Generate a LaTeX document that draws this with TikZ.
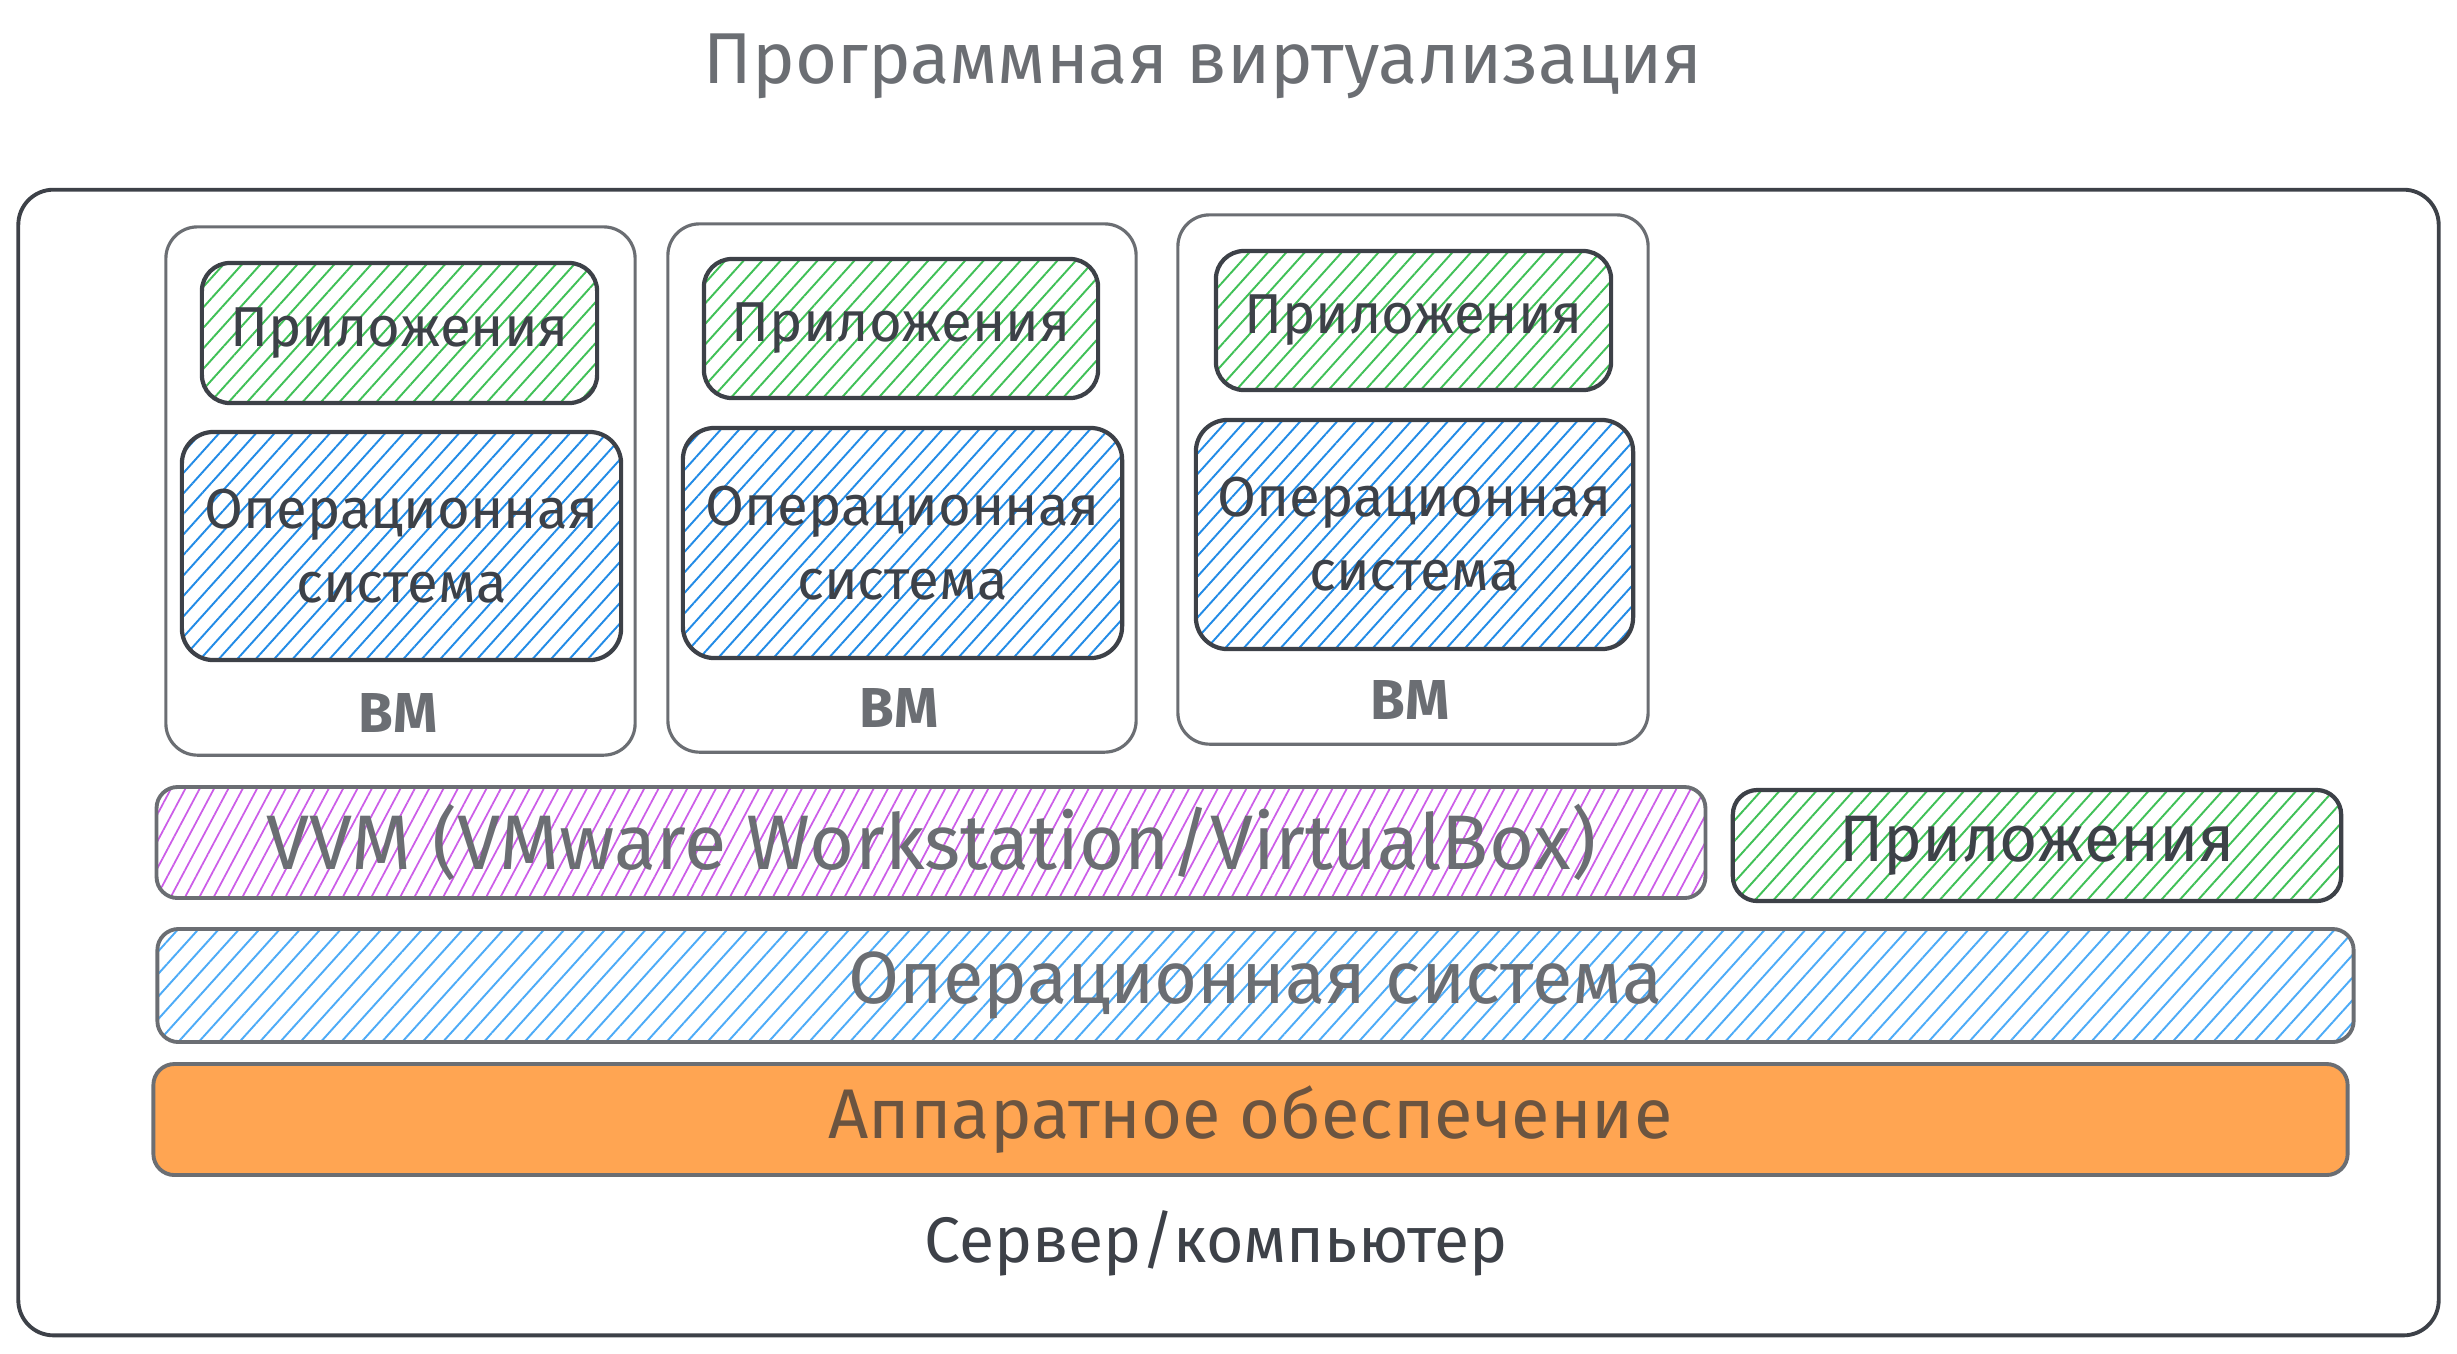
\documentclass[tikz,border=0pt]{standalone}
\usepackage{fontspec}
\setmainfont{Fira Sans}
\usetikzlibrary{patterns.meta}
\definecolor{dark}{HTML}{3D4148}
\definecolor{mid}{HTML}{6B6E73}
\definecolor{hgreen}{HTML}{40C057}
\definecolor{hblue}{HTML}{228BE6}
\definecolor{hblue2}{HTML}{4DABF7}
\definecolor{hpurple}{HTML}{CC5DE8}
\definecolor{orangefill}{HTML}{FFA552}
\definecolor{hwtext}{HTML}{6B5440}
\tikzset{
  outerbox/.style={draw=dark, line width=1.1pt, rounded corners=10pt, inner sep=0pt},
  vmbox/.style={draw=mid, line width=0.9pt, rounded corners=9pt, inner sep=0pt},
  appbox/.style={draw=dark, line width=1.2pt, rounded corners=8pt, inner sep=0pt,
    pattern={Lines[angle=48,distance=3.9pt,line width=0.55pt]}, pattern color=hgreen},
  osbox/.style={draw=dark, line width=1.2pt, rounded corners=9pt, inner sep=0pt,
    pattern={Lines[angle=48,distance=3.9pt,line width=0.55pt]}, pattern color=hblue},
  vvmbar/.style={draw=mid, line width=1.1pt, rounded corners=6pt, inner sep=0pt,
    pattern={Lines[angle=62,distance=3.6pt,line width=0.5pt]}, pattern color=hpurple},
  osbar/.style={draw=mid, line width=1.1pt, rounded corners=6pt, inner sep=0pt,
    pattern={Lines[angle=48,distance=4.3pt,line width=0.55pt]}, pattern color=hblue2},
  hwbar/.style={draw=mid, line width=1.1pt, rounded corners=6pt, inner sep=0pt, fill=orangefill},
  intext/.style={text=dark, font=\fontsize{16}{21}\selectfont, align=center},
  vmlabel/.style={text=mid, font=\fontsize{16}{19}\selectfont\bfseries},
  bartext/.style={text=mid, font=\fontsize{21}{26}\selectfont},
  titletext/.style={text=mid, font=\fontsize{20.5}{25}\selectfont},
}
\begin{document}
\begin{tikzpicture}[x=0.01cm,y=-0.01cm]
\useasboundingbox (0,0) rectangle (2457,1353);
% title
\node[titletext] (title) at (1203,66) {Программная виртуализация};
% outer server box
\node[outerbox, minimum width=24.19cm, minimum height=11.45cm] (server) at (1228.5,762.5) {};
% VMs
\node[vmbox, minimum width=4.69cm, minimum height=5.28cm] (vm1) at (400.5,491) {};
\node[vmbox, minimum width=4.68cm, minimum height=5.28cm] (vm2) at (902,488) {};
\node[vmbox, minimum width=4.70cm, minimum height=5.29cm] (vm3) at (1413,479.5) {};
% apps in VMs
\node[appbox, minimum width=3.95cm, minimum height=1.40cm] (app1) at (399.5,333) {};
\node[appbox, minimum width=3.94cm, minimum height=1.39cm] (app2) at (901,328.5) {};
\node[appbox, minimum width=3.95cm, minimum height=1.39cm] (app3) at (1413.5,320.5) {};
\node[intext] at (app1) {Приложения};
\node[intext] at (app2) {Приложения};
\node[intext] at (app3) {Приложения};
% OS in VMs
\node[osbox, minimum width=4.39cm, minimum height=2.28cm] (os1) at (401.5,546) {};
\node[osbox, minimum width=4.39cm, minimum height=2.30cm] (os2) at (902.5,543) {};
\node[osbox, minimum width=4.37cm, minimum height=2.29cm] (os3) at (1414.5,534.5) {};
\node[intext] at (os1) {Операционная\\система};
\node[intext] at (os2) {Операционная\\система};
\node[intext] at (os3) {Операционная\\система};
% VM labels
\node[vmlabel] (l1) at (398,713) {ВМ};
\node[vmlabel] (l2) at (899,708) {ВМ};
\node[vmlabel] (l3) at (1410,700) {ВМ};
% VVM bar
\node[vvmbar, minimum width=15.48cm, minimum height=1.11cm] (vvm) at (931,842.5) {};
\node[bartext, font=\fontsize{22}{26}\selectfont] at (vvm) {VVM (VMware Workstation/VirtualBox)};
% host apps
\node[appbox, rounded corners=7pt, minimum width=6.08cm, minimum height=1.11cm] (happ) at (2037,845.5) {};
\node[intext, font=\fontsize{18.7}{23}\selectfont] at (happ) {Приложения};
% host OS
\node[osbar, minimum width=21.95cm, minimum height=1.13cm] (hos) at (1255.5,985.5) {};
\node[bartext] at (hos) {Операционная система};
% hardware
\node[hwbar, minimum width=21.93cm, minimum height=1.11cm] (hw) at (1250.5,1119.5) {};
\node[bartext, text=hwtext, font=\fontsize{20}{24}\selectfont] at (hw) {Аппаратное обеспечение};
% server label
\node[intext, font=\fontsize{18.3}{22}\selectfont] (srv) at (1216,1243) {Сервер/компьютер};
\end{tikzpicture}
\end{document}
